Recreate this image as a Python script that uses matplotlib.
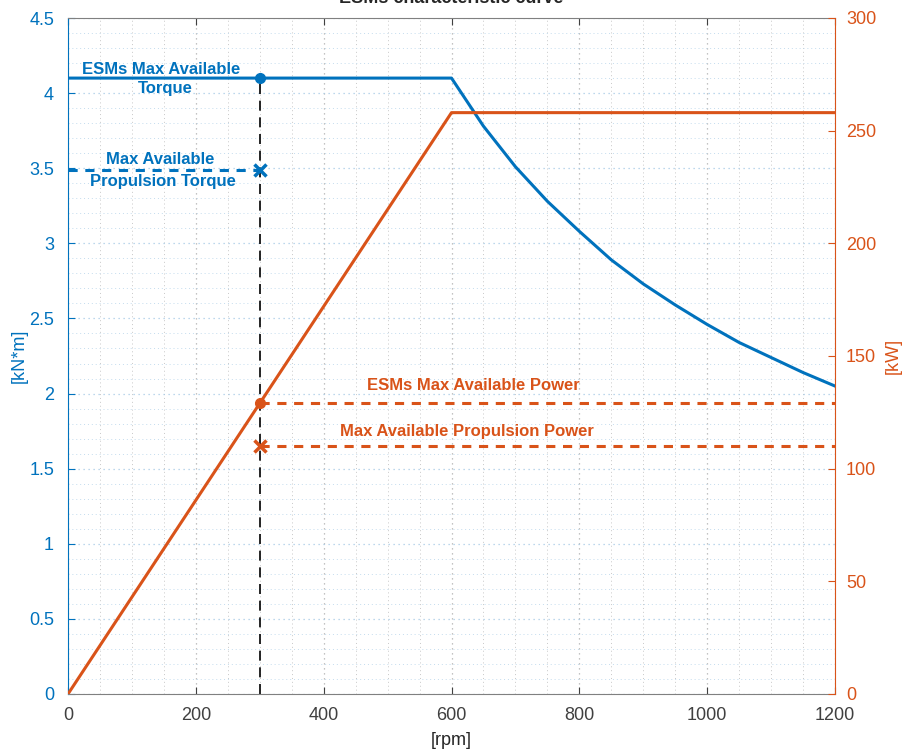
import matplotlib
matplotlib.use("Agg")
import matplotlib.pyplot as plt
from matplotlib.ticker import MultipleLocator

plt.rcParams["font.family"] = ["Liberation Sans", "DejaVu Sans"]

blue = "#0072BD"
orange = "#D95319"

# torque curve [kN*m] vs speed [rpm]
rpm_t = [0, 600, 650, 700, 750, 800, 850, 900, 950, 1000, 1050, 1100, 1150, 1200]
torque = [4.1, 4.1, 3.78, 3.51, 3.28, 3.08, 2.89, 2.73, 2.59, 2.46, 2.34, 2.24, 2.14, 2.05]

# power curve [kW]
rpm_p = [0, 600, 1200]
power = [0, 258, 258]

op_rpm = 300
max_torque = 4.1
prop_torque = 3.49
max_power = 129
prop_power = 110

fig = plt.figure(figsize=(9.03, 7.52), dpi=100)
ax = fig.add_axes([68 / 903, 1 - 694 / 752, 767 / 903, 676 / 752])
ax2 = ax.twinx()

ax.set_xlim(0, 1200)
ax.set_ylim(0, 4.5)
ax2.set_ylim(0, 300)

# grid
ax.xaxis.set_major_locator(MultipleLocator(200))
ax.xaxis.set_minor_locator(MultipleLocator(50))
ax.yaxis.set_major_locator(MultipleLocator(0.5))
ax.yaxis.set_minor_locator(MultipleLocator(0.1))
ax2.yaxis.set_major_locator(MultipleLocator(50))
ax2.yaxis.set_minor_locator(MultipleLocator(10))
ax.grid(True, which="major", axis="x", color="#b0b0b0", ls=(0, (1, 3)), lw=0.9)
ax.grid(True, which="minor", axis="x", color="#c8c8c8", ls=(0, (1, 3)), lw=0.7)
ax.grid(True, which="major", axis="y", color="#a8cbe6", ls=(0, (1, 3)), lw=0.9)
ax.grid(True, which="minor", axis="y", color="#c4dcee", ls=(0, (1, 3)), lw=0.7)
ax.set_axisbelow(True)

# torque side
ax.plot(rpm_t, torque, color=blue, lw=2.2)
ax.plot([0, op_rpm], [prop_torque, prop_torque], color=blue, lw=2.2, ls=(0, (3, 2.5)))
ax.plot([op_rpm, op_rpm], [0, max_torque], color="black", lw=1.2, ls=(0, (6, 4)))
ax.plot(op_rpm, max_torque, "o", color=blue, ms=7)
ax.plot(op_rpm, prop_torque, "x", color=blue, ms=8, mew=2.5)

# power side
ax2.plot(rpm_p, power, color=orange, lw=2.2)
ax2.plot([op_rpm, 1200], [max_power, max_power], color=orange, lw=2.2, ls=(0, (3, 2.5)))
ax2.plot([op_rpm, 1200], [prop_power, prop_power], color=orange, lw=2.2, ls=(0, (3, 2.5)))
ax2.plot(op_rpm, max_power, "o", color=orange, ms=7)
ax2.plot(op_rpm, prop_power, "x", color=orange, ms=8, mew=2.5)

fs = 12
ax.text(145, 4.16, "ESMs Max Available", color=blue, fontsize=fs, fontweight="bold", ha="center", va="center")
ax.text(153, 4.03, "Torque", color=blue, fontsize=fs, fontweight="bold", ha="center", va="center")
ax.text(145, 3.555, "Max Available", color=blue, fontsize=fs, fontweight="bold", ha="center", va="center")
ax.text(149, 3.41, "Propulsion Torque", color=blue, fontsize=fs, fontweight="bold", ha="center", va="center")
ax2.text(634, 136.7, "ESMs Max Available Power", color=orange, fontsize=fs, fontweight="bold", ha="center", va="center")
ax2.text(624, 116.7, "Max Available Propulsion Power", color=orange, fontsize=fs, fontweight="bold", ha="center", va="center")

# axes styling
for s in ["top", "bottom"]:
    ax.spines[s].set_color("#808080")
ax.spines["left"].set_color(blue)
ax2.spines["left"].set_visible(False)
ax2.spines["top"].set_visible(False)
ax2.spines["bottom"].set_visible(False)
ax.spines["right"].set_visible(False)
ax2.spines["right"].set_color(orange)
ax.tick_params(axis="x", colors="#404040", labelsize=13, direction="in", length=5, top=True, pad=9, which="major")
ax.tick_params(axis="x", which="minor", length=0)
ax.tick_params(axis="y", colors=blue, labelsize=13, direction="in", length=5, pad=10, which="major")
ax.tick_params(axis="y", which="minor", length=0)
ax2.tick_params(axis="y", colors=orange, labelsize=13, direction="in", length=5, pad=8, which="major")
ax2.tick_params(axis="y", which="minor", length=0)
ax.set_yticks([0, 0.5, 1, 1.5, 2, 2.5, 3, 3.5, 4, 4.5])
ax.set_yticklabels(["0", "0.5", "1", "1.5", "2", "2.5", "3", "3.5", "4", "4.5"])

ax.set_xlabel("[rpm]", fontsize=13, color="#262626", labelpad=6)
ax.set_ylabel("[kN*m]", fontsize=13, color=blue)
ax2.set_ylabel("[kW]", fontsize=13, color=orange, rotation=90, labelpad=6)
ax.yaxis.set_label_coords(-0.052, 0.5)

fig.text(0.5, 1.002, "ESMs characteristic curve", ha="center", va="center", fontsize=13, fontweight="bold", color="#262626")

fig.savefig("out.png", dpi=100)
